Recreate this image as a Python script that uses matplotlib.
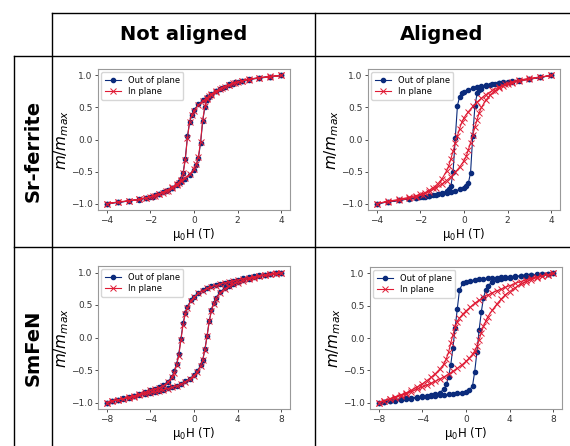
import matplotlib
matplotlib.use("Agg")
import matplotlib.pyplot as plt
from matplotlib.lines import Line2D

# ────────────────────────────────────────────────
#  Data
# ────────────────────────────────────────────────

COL_TITLES = ["Not aligned", "Aligned"]
ROW_TITLES = ["Sr-ferrite", "SmFeN"]
SERIES_LABELS = ["Out of plane", "In plane"]

# field sweeps, Sr-ferrite (T)
H_SR_DOWN = [4, 3.5, 3, 2.5, 2.2, 1.9, 1.6, 1.3, 1.0, 0.8, 0.6, 0.4, 0.2, 0, -0.1, -0.2, -0.3,
             -0.4, -0.5, -0.6, -0.7, -0.8, -1.0, -1.2, -1.4, -1.6, -1.8, -2.0, -2.2, -2.5, -3, -3.5, -4]
H_SR_UP = [-4, -3.5, -3, -2.5, -2.2, -1.9, -1.6, -1.3, -1.0, -0.8, -0.6, -0.4, -0.2, 0, 0.1, 0.2, 0.3,
           0.4, 0.5, 0.6, 0.7, 0.8, 1.0, 1.2, 1.4, 1.6, 1.8, 2.0, 2.2, 2.5, 3, 3.5, 4]

# Sr-ferrite, not aligned
SR_NA_OOP_DOWN = [1.0, 0.98, 0.965, 0.94, 0.92, 0.89, 0.86, 0.81, 0.75, 0.71, 0.66, 0.61, 0.55, 0.46, 0.39,
                  0.28, 0.05, -0.30, -0.52, -0.62, -0.67, -0.70, -0.75, -0.79, -0.82, -0.85, -0.87, -0.89,
                  -0.91, -0.93, -0.96, -0.98, -1.0]
SR_NA_OOP_UP = [-1.0, -0.98, -0.96, -0.94, -0.915, -0.89, -0.855, -0.81, -0.75, -0.705, -0.66, -0.61, -0.55,
                -0.47, -0.40, -0.29, -0.06, 0.29, 0.51, 0.62, 0.67, 0.70, 0.75, 0.79, 0.82, 0.85, 0.87,
                0.89, 0.91, 0.935, 0.96, 0.98, 1.0]
SR_NA_IP_DOWN = [1.0, 0.975, 0.96, 0.935, 0.915, 0.885, 0.855, 0.805, 0.745, 0.70, 0.655, 0.60, 0.54, 0.45,
                 0.38, 0.27, 0.03, -0.32, -0.53, -0.63, -0.68, -0.71, -0.76, -0.80, -0.83, -0.855, -0.875,
                 -0.895, -0.915, -0.935, -0.96, -0.98, -1.0]
SR_NA_IP_UP = [-1.0, -0.975, -0.955, -0.935, -0.91, -0.885, -0.85, -0.80, -0.745, -0.70, -0.655, -0.60,
               -0.545, -0.46, -0.39, -0.27, -0.04, 0.31, 0.52, 0.63, 0.68, 0.71, 0.755, 0.795, 0.825, 0.855,
               0.875, 0.895, 0.915, 0.94, 0.965, 0.985, 1.0]

# Sr-ferrite, aligned
SR_AL_OOP_DOWN = [1.0, 0.97, 0.94, 0.915, 0.90, 0.885, 0.875, 0.865, 0.85, 0.835, 0.82, 0.80, 0.775, 0.74,
                  0.72, 0.67, 0.53, 0.02, -0.50, -0.73, -0.78, -0.80, -0.835, -0.855, -0.87, -0.88, -0.89,
                  -0.90, -0.91, -0.925, -0.95, -0.975, -1.0]
SR_AL_OOP_UP = [-1.0, -0.975, -0.95, -0.925, -0.91, -0.895, -0.88, -0.87, -0.855, -0.84, -0.825, -0.805,
                -0.78, -0.75, -0.73, -0.68, -0.52, 0.05, 0.52, 0.72, 0.77, 0.79, 0.83, 0.855, 0.87, 0.88,
                0.89, 0.90, 0.91, 0.925, 0.945, 0.97, 1.0]
SR_AL_IP_DOWN = [1.0, 0.975, 0.955, 0.925, 0.90, 0.865, 0.82, 0.765, 0.70, 0.645, 0.585, 0.515, 0.435, 0.34,
                 0.27, 0.17, 0.06, -0.06, -0.18, -0.30, -0.41, -0.49, -0.61, -0.69, -0.75, -0.795, -0.83,
                 -0.855, -0.875, -0.90, -0.935, -0.965, -1.0]
SR_AL_IP_UP = [-1.0, -0.97, -0.95, -0.92, -0.895, -0.86, -0.815, -0.76, -0.69, -0.64, -0.58, -0.51, -0.43,
               -0.33, -0.265, -0.16, -0.05, 0.07, 0.19, 0.31, 0.42, 0.50, 0.615, 0.695, 0.755, 0.80, 0.835,
               0.86, 0.88, 0.905, 0.94, 0.97, 1.0]

# field sweeps, SmFeN (T)
H_SM_DOWN = [8, 7.5, 7, 6.5, 6, 5.5, 5, 4.5, 4, 3.6, 3.2, 2.8, 2.4, 2.0, 1.6, 1.2, 0.8, 0.4, 0, -0.3, -0.6,
             -0.8, -1.0, -1.2, -1.4, -1.6, -1.8, -2.0, -2.4, -2.8, -3.2, -3.6, -4, -4.5, -5, -5.5, -6, -6.5,
             -7, -7.5, -8]
H_SM_UP = [-8, -7.5, -7, -6.5, -6, -5.5, -5, -4.5, -4, -3.6, -3.2, -2.8, -2.4, -2.0, -1.6, -1.2, -0.8, -0.4,
           0, 0.3, 0.6, 0.8, 1.0, 1.2, 1.4, 1.6, 1.8, 2.0, 2.4, 2.8, 3.2, 3.6, 4, 4.5, 5, 5.5, 6, 6.5, 7,
           7.5, 8]

# SmFeN, not aligned
SM_NA_OOP_DOWN = [1.0, 0.985, 0.975, 0.965, 0.955, 0.94, 0.925, 0.91, 0.89, 0.875, 0.86, 0.845, 0.825, 0.805,
                  0.785, 0.76, 0.725, 0.685, 0.63, 0.57, 0.47, 0.38, 0.22, -0.02, -0.26, -0.41, -0.52, -0.60,
                  -0.68, -0.73, -0.765, -0.785, -0.805, -0.84, -0.87, -0.895, -0.915, -0.935, -0.955,
                  -0.975, -1.0]
SM_NA_OOP_UP = [-1.0, -0.975, -0.955, -0.94, -0.925, -0.905, -0.885, -0.865, -0.85, -0.835, -0.82, -0.80,
                -0.78, -0.76, -0.74, -0.71, -0.675, -0.635, -0.58, -0.52, -0.43, -0.34, -0.18, 0.03, 0.26,
                0.42, 0.53, 0.61, 0.70, 0.76, 0.80, 0.825, 0.85, 0.88, 0.905, 0.925, 0.945, 0.96, 0.975,
                0.985, 1.0]
SM_NA_IP_DOWN = [1.0, 0.98, 0.97, 0.96, 0.95, 0.935, 0.92, 0.905, 0.885, 0.87, 0.855, 0.84, 0.82, 0.80, 0.78,
                 0.755, 0.72, 0.68, 0.62, 0.56, 0.46, 0.36, 0.20, -0.04, -0.28, -0.43, -0.54, -0.61, -0.69,
                 -0.74, -0.775, -0.795, -0.815, -0.845, -0.875, -0.90, -0.92, -0.94, -0.96, -0.975, -1.0]
SM_NA_IP_UP = [-1.0, -0.98, -0.96, -0.945, -0.93, -0.91, -0.89, -0.87, -0.855, -0.84, -0.825, -0.805, -0.785,
               -0.765, -0.745, -0.715, -0.68, -0.64, -0.585, -0.53, -0.44, -0.35, -0.19, 0.02, 0.25, 0.41,
               0.52, 0.60, 0.69, 0.75, 0.79, 0.82, 0.845, 0.875, 0.90, 0.92, 0.94, 0.955, 0.97, 0.985, 1.0]

# SmFeN, aligned
SM_AL_OOP_DOWN = [1.0, 0.995, 0.99, 0.985, 0.98, 0.972, 0.965, 0.958, 0.952, 0.946, 0.94, 0.934, 0.928,
                  0.922, 0.915, 0.907, 0.898, 0.888, 0.875, 0.85, 0.74, 0.45, 0.15, -0.15, -0.42, -0.60,
                  -0.72, -0.79, -0.845, -0.87, -0.885, -0.895, -0.905, -0.915, -0.925, -0.935, -0.945,
                  -0.955, -0.97, -0.985, -1.0]
SM_AL_OOP_UP = [-1.0, -0.99, -0.98, -0.97, -0.96, -0.95, -0.94, -0.93, -0.92, -0.912, -0.905, -0.898, -0.89,
                -0.882, -0.875, -0.866, -0.855, -0.845, -0.83, -0.81, -0.74, -0.52, -0.22, 0.12, 0.40, 0.62,
                0.74, 0.81, 0.87, 0.90, 0.915, 0.925, 0.935, 0.945, 0.955, 0.965, 0.972, 0.98, 0.987,
                0.994, 1.0]
SM_AL_IP_DOWN = [1.0, 0.98, 0.96, 0.945, 0.925, 0.90, 0.875, 0.845, 0.81, 0.785, 0.755, 0.73, 0.70, 0.665,
                 0.63, 0.585, 0.54, 0.48, 0.42, 0.37, 0.31, 0.25, 0.17, 0.05, -0.08, -0.22, -0.32, -0.40,
                 -0.48, -0.55, -0.61, -0.66, -0.71, -0.76, -0.81, -0.85, -0.88, -0.91, -0.94, -0.97, -1.0]
SM_AL_IP_UP = [-1.0, -0.975, -0.95, -0.925, -0.895, -0.865, -0.83, -0.795, -0.76, -0.73, -0.70, -0.67,
               -0.635, -0.60, -0.56, -0.515, -0.47, -0.42, -0.36, -0.31, -0.25, -0.20, -0.13, -0.03, 0.08,
               0.18, 0.26, 0.33, 0.43, 0.52, 0.60, 0.67, 0.72, 0.78, 0.83, 0.87, 0.905, 0.935, 0.96, 0.98,
               1.0]

SR_XTICKS = [-4, -2, 0, 2, 4]
SM_XTICKS = [-8, -4, 0, 4, 8]
YTICKS = [-1.0, -0.5, 0.0, 0.5, 1.0]

BLUE = "#0b2b7c"
RED = "#e01b35"

# ────────────────────────────────────────────────
#  Figure
# ────────────────────────────────────────────────

W, H = 570, 446
fig = plt.figure(figsize=(W / 100, H / 100), dpi=100)


def px_axes(x0, y0, x1, y1):
    # pixel box (top-left origin) -> figure axes
    return fig.add_axes([x0 / W, 1 - y1 / H, (x1 - x0) / W, (y1 - y0) / H])


def draw_panel(ax, h_down, h_up, oop_down, oop_up, ip_down, ip_up, xticks):
    ax.plot(h_down + h_up, oop_down + oop_up, color=BLUE, marker="o", markersize=3,
            linewidth=0.8, label=SERIES_LABELS[0])
    ax.plot(h_down + h_up, ip_down + ip_up, color=RED, marker="x", markersize=3.8,
            markeredgewidth=0.7, linewidth=0.8, label=SERIES_LABELS[1])
    ax.set_xticks(xticks)
    ax.set_yticks(YTICKS)
    ax.tick_params(labelsize=6.5, length=2.5, width=0.6, pad=1.5, colors="0.2")
    for s in ax.spines.values():
        s.set_color("0.6")
        s.set_linewidth(0.8)
    ax.set_xlabel(r"$\mathregular{\mu_0}$H (T)", fontsize=8.5, labelpad=1)
    ax.set_ylabel(r"$m/m_{max}$", fontsize=11, labelpad=0)
    ax.legend(loc="upper left", fontsize=6, handlelength=2.0, borderpad=0.4,
              labelspacing=0.3, handletextpad=0.8, borderaxespad=0.4)


ax1 = px_axes(98, 69, 290, 210)
draw_panel(ax1, H_SR_DOWN, H_SR_UP, SR_NA_OOP_DOWN, SR_NA_OOP_UP, SR_NA_IP_DOWN, SR_NA_IP_UP, SR_XTICKS)

ax2 = px_axes(368, 69, 560, 210)
draw_panel(ax2, H_SR_DOWN, H_SR_UP, SR_AL_OOP_DOWN, SR_AL_OOP_UP, SR_AL_IP_DOWN, SR_AL_IP_UP, SR_XTICKS)

ax3 = px_axes(98, 266, 290, 409)
draw_panel(ax3, H_SM_DOWN, H_SM_UP, SM_NA_OOP_DOWN, SM_NA_OOP_UP, SM_NA_IP_DOWN, SM_NA_IP_UP, SM_XTICKS)

ax4 = px_axes(370, 267, 562, 409)
draw_panel(ax4, H_SM_DOWN, H_SM_UP, SM_AL_OOP_DOWN, SM_AL_OOP_UP, SM_AL_IP_DOWN, SM_AL_IP_UP, SM_XTICKS)

# table grid around the panels
def grid_line(x0, y0, x1, y1):
    fig.add_artist(Line2D([x0 / W, x1 / W], [1 - y0 / H, 1 - y1 / H], transform=fig.transFigure,
                          color="black", linewidth=1.0))


grid_line(52, 12.5, W, 12.5)
grid_line(14, 55.5, W, 55.5)
grid_line(14, 247, W, 247)
grid_line(14, 55.5, 14, H)
grid_line(52, 12.5, 52, H)
grid_line(315, 12.5, 315, H)

# headers
fig.text(183.5 / W, 1 - 34 / H, COL_TITLES[0], fontsize=14, fontweight="bold", ha="center", va="center")
fig.text(442 / W, 1 - 34 / H, COL_TITLES[1], fontsize=14, fontweight="bold", ha="center", va="center")
fig.text(33 / W, 1 - 151 / H, ROW_TITLES[0], fontsize=14, fontweight="bold", rotation=90,
         ha="center", va="center")
fig.text(33 / W, 1 - 348 / H, ROW_TITLES[1], fontsize=14, fontweight="bold", rotation=90,
         ha="center", va="center")

fig.savefig("out.png", dpi=100)
